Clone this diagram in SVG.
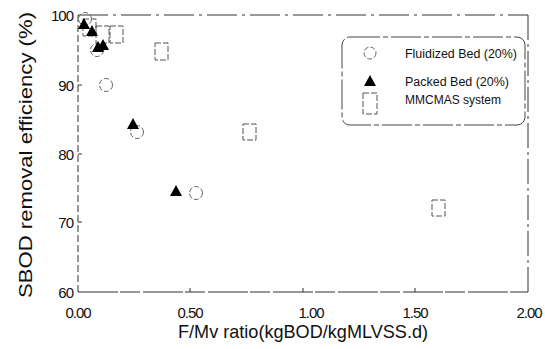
<svg xmlns="http://www.w3.org/2000/svg" width="545" height="349" viewBox="0 0 545 349">
<style>
text{font-family:"Liberation Sans",Arial,sans-serif;fill:#111}
.tick{font-size:15px;letter-spacing:-1px}
.title{font-size:19px}
.leg{font-size:12.5px}
.circ{fill:none;stroke:#666;stroke-width:1;stroke-dasharray:5 2}
.sq{fill:none;stroke:#555;stroke-width:1;stroke-dasharray:6 2}
.tri{fill:#000}
.axis{stroke:#333;stroke-width:1;fill:none}
</style>
<rect width="545" height="349" fill="#fff"/>
<g id="axes">
<line class="axis" x1="78" y1="15" x2="78" y2="292" stroke-dasharray="7 3"/>
<line class="axis" x1="78" y1="292" x2="528" y2="292" stroke-dasharray="40 2 20 3"/>
<line class="axis" x1="78" y1="15" x2="528" y2="15" stroke-dasharray="30 5 3 5" stroke="#666"/>
<line class="axis" x1="528" y1="15" x2="528" y2="292" stroke-dasharray="25 4 3 4" stroke="#555"/>
<g stroke="#333">
<line x1="78" y1="85" x2="82" y2="85"/><line x1="78" y1="154" x2="82" y2="154"/><line x1="78" y1="222" x2="82" y2="222"/>
<line x1="190" y1="292" x2="190" y2="288"/><line x1="303" y1="292" x2="303" y2="288"/><line x1="415" y1="292" x2="415" y2="288"/>
</g>
</g>
<g id="ticklabels" class="tick">
<text x="73" y="21" text-anchor="end" class="tick">100</text>
<text x="73" y="91" text-anchor="end" class="tick">90</text>
<text x="73" y="160" text-anchor="end" class="tick">80</text>
<text x="73" y="228" text-anchor="end" class="tick">70</text>
<text x="73" y="298" text-anchor="end" class="tick">60</text>
<text x="78" y="318" text-anchor="middle" class="tick">0.00</text>
<text x="190" y="318" text-anchor="middle" class="tick">0.50</text>
<text x="311" y="318" text-anchor="middle" class="tick">1.00</text>
<text x="415" y="318" text-anchor="middle" class="tick">1.50</text>
<text x="529" y="318" text-anchor="middle" class="tick">2.00</text>
</g>
<g id="titles">
<text class="title" x="303" y="338" text-anchor="middle" textLength="250" lengthAdjust="spacingAndGlyphs">F/Mv ratio(kgBOD/kgMLVSS.d)</text>
<text class="title" transform="translate(32,155) rotate(-90)" text-anchor="middle" textLength="286" lengthAdjust="spacingAndGlyphs">SBOD removal efficiency (%)</text>
</g>
<g id="mmcmas">
<rect class="sq" x="83" y="19" width="13" height="17"/>
<rect class="sq" x="96" y="26" width="13" height="17"/>
<rect class="sq" x="110" y="26" width="13" height="17"/>
<rect class="sq" x="155" y="43" width="13" height="17"/>
<rect class="sq" x="243" y="124" width="13" height="16"/>
<rect class="sq" x="432" y="200" width="13" height="16"/>
</g>
<g id="fluidized">
<circle class="circ" cx="85" cy="19" r="6.5"/>
<circle class="circ" cx="97" cy="50" r="6.5"/>
<circle class="circ" cx="106" cy="85" r="6.5"/>
<circle class="circ" cx="137" cy="132" r="6.5"/>
<circle class="circ" cx="196" cy="193" r="6.5"/>
</g>
<g id="packed">
<polygon class="tri" points="84,18 90,29 78,29"/>
<polygon class="tri" points="92,25 98,36 86,36"/>
<polygon class="tri" points="98,41 104,52 92,52"/>
<polygon class="tri" points="103,39 109,50 97,50"/>
<polygon class="tri" points="133,118 139,129 127,129"/>
<polygon class="tri" points="176,185 182,196 170,196"/>
</g>
<g id="legend">
<rect x="342" y="37" width="183" height="88" rx="8" fill="none" stroke="#444" stroke-dasharray="30 3 5 3"/>
<circle class="circ" cx="370" cy="53" r="6"/>
<polygon class="tri" points="370,75 376,86 364,86"/>
<rect class="sq" x="363" y="93" width="14" height="21"/>
<text class="leg" x="405" y="57.5" textLength="112" lengthAdjust="spacingAndGlyphs">Fluidized  Bed (20%)</text>
<text class="leg" x="405" y="85.5" textLength="104" lengthAdjust="spacingAndGlyphs">Packed  Bed (20%)</text>
<text class="leg" x="405" y="103.5" textLength="96" lengthAdjust="spacingAndGlyphs">MMCMAS system</text>
</g>
</svg>
